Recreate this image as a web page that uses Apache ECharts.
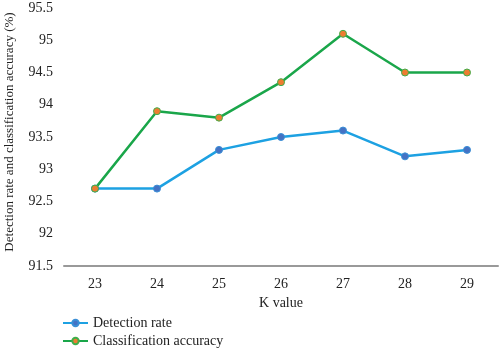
<!DOCTYPE html>
<html>
<head>
<meta charset="utf-8">
<script src="https://cdn.jsdelivr.net/npm/echarts@6/dist/echarts.min.js"></script>
<style>
  html, body { margin: 0; padding: 0; background: #fff; }
  #chart { width: 500px; height: 350px; }
</style>
</head>
<body>
<div id="chart"></div>
<script>
// K values along the horizontal axis
const kValues = ['23', '24', '25', '26', '27', '28', '29'];
// Detection rate (%) per K
const detectionRate = [92.7, 92.7, 93.3, 93.5, 93.6, 93.2, 93.3];
// Classification accuracy (%) per K
const classificationAccuracy = [92.7, 93.9, 93.8, 94.35, 95.1, 94.5, 94.5];

const serif = '"Liberation Serif", "DejaVu Serif", serif';
const chart = echarts.init(document.getElementById('chart'), null, { renderer: 'canvas' });

chart.setOption({
  animation: false,
  textStyle: { fontFamily: serif },
  grid: { left: 64, right: 2, top: 8, bottom: 84, outerBoundsMode: 'none', containLabel: false },
  legend: {
    orient: 'vertical',
    left: 62,
    top: 316,
    padding: 0,
    itemGap: 4,
    itemWidth: 25,
    itemHeight: 8,
    textStyle: { fontFamily: serif, fontSize: 14, color: '#222' },
    data: ['Detection rate', 'Classification accuracy']
  },
  xAxis: {
    type: 'category',
    data: kValues,
    boundaryGap: true,
    name: 'K value',
    nameLocation: 'middle',
    nameGap: 30,
    nameTextStyle: { fontFamily: serif, fontSize: 14, color: '#222' },
    axisLine: { lineStyle: { color: '#999', width: 2 } },
    axisTick: { show: false },
    axisLabel: { fontFamily: serif, fontSize: 14, color: '#222', margin: 11 }
  },
  yAxis: {
    type: 'value',
    min: 91.5,
    max: 95.5,
    interval: 0.5,
    name: 'Detection rate and classification accuracy (%)',
    nameLocation: 'middle',
    nameGap: 48,
    nameTextStyle: { fontFamily: serif, fontSize: 13, color: '#222', padding: [0, 0, 0, 10] },
    axisLine: { show: false },
    axisTick: { show: false },
    splitLine: { show: false },
    axisLabel: { fontFamily: serif, fontSize: 14, color: '#222', margin: 11 }
  },
  series: [
    {
      name: 'Detection rate',
      type: 'line',
      data: detectionRate,
      symbol: 'circle',
      symbolSize: 7,
      lineStyle: { color: '#1da1e2', width: 2.5 },
      itemStyle: { color: '#4472c4', borderColor: '#3b8fd6', borderWidth: 1 }
    },
    {
      name: 'Classification accuracy',
      type: 'line',
      data: classificationAccuracy,
      symbol: 'circle',
      symbolSize: 7,
      lineStyle: { color: '#1aa64a', width: 2.5 },
      itemStyle: { color: '#ed7d31', borderColor: '#3fae4a', borderWidth: 1 }
    }
  ]
});
</script>
</body>
</html>
